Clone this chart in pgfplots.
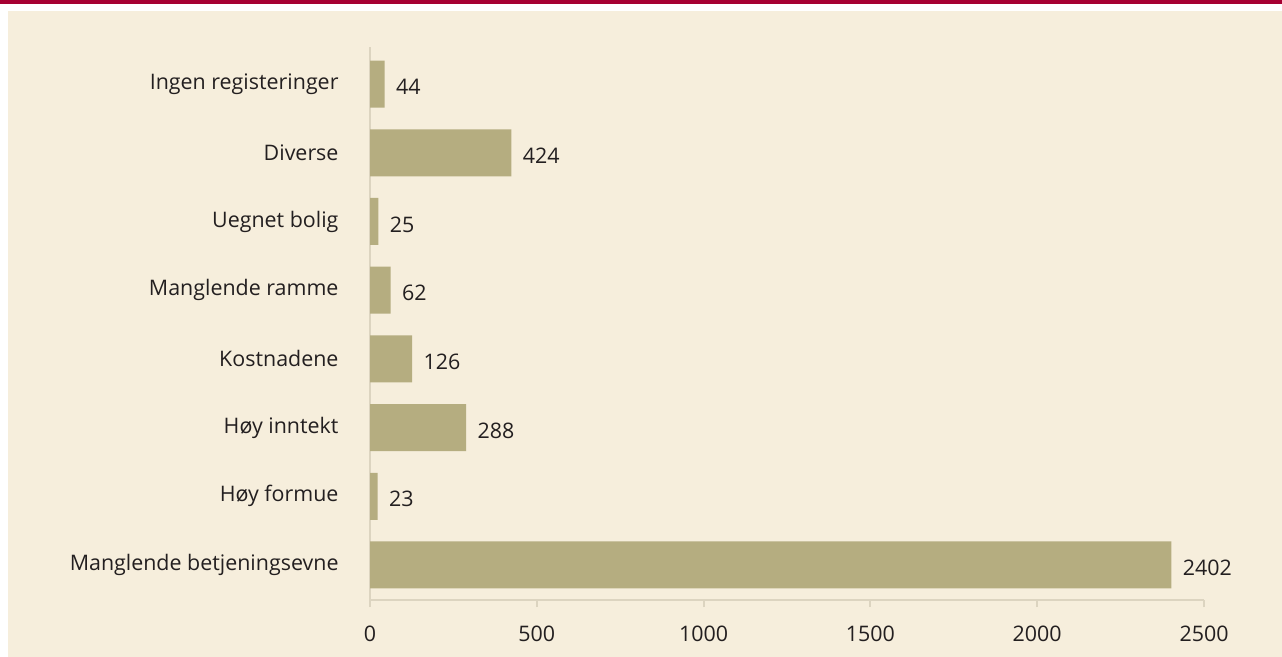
\documentclass[border=0pt]{standalone}
\usepackage{pgfplots}
\pgfplotsset{compat=1.18}
\usepackage{fontspec}
\setmainfont{Open Sans}
\definecolor{topred}{HTML}{A60032}
\definecolor{panel}{HTML}{F6EEDC}
\definecolor{barc}{HTML}{B5AD80}
\definecolor{axc}{HTML}{DCD4C0}
\definecolor{txt}{HTML}{231F20}
\begin{document}
\begin{tikzpicture}
\useasboundingbox (0,0) rectangle (1282bp,-657bp);
\fill[white] (0,0) rectangle (1282bp,-657bp);
\fill[panel] (8bp,-11bp) rectangle (1282bp,-657bp);
\fill[topred] (0,0) rectangle (1282bp,-3.5bp);
\begin{axis}[
  at={(370bp,-600bp)}, anchor=south west,
  scale only axis, width=834bp, height=553bp,
  xbar, bar width=47bp,
  xmin=0, xmax=2500, ymin=-0.51, ymax=7.54,
  axis x line*=bottom, axis y line*=left,
  axis line style={axc, line width=2bp},
  xtick={0,500,1000,1500,2000,2500},
  x tick style={axc, line width=2bp}, major tick length=7bp,
  tick align=outside,
  xticklabel style={font=\fontsize{21.5}{26}\selectfont, text=txt, yshift=-15bp},
  ytick={0,...,7}, y tick style={draw=none},
  yticklabels={Manglende betjeningsevne, Høy formue, Høy inntekt, Kostnadene, Manglende ramme, Uegnet bolig, Diverse, Ingen registeringer},
  yticklabel style={font=\fontsize{21.5}{26}\selectfont, text=txt, xshift=-21bp},
  /pgf/number format/assume math mode=true,
  /pgf/number format/1000 sep={},
  scaled x ticks=false,
  nodes near coords,
  every node near coord/.append style={font=\fontsize{21.5}{26}\selectfont, text=txt, xshift=8bp, yshift=-3bp, /pgf/number format/1000 sep={}},
  clip=false,
]
\addplot[fill=barc, draw=none] coordinates {
(2402,0) (23,1) (288,2) (126,3) (62,4) (25,5) (424,6) (44,7)};
\end{axis}
\end{tikzpicture}
\end{document}
